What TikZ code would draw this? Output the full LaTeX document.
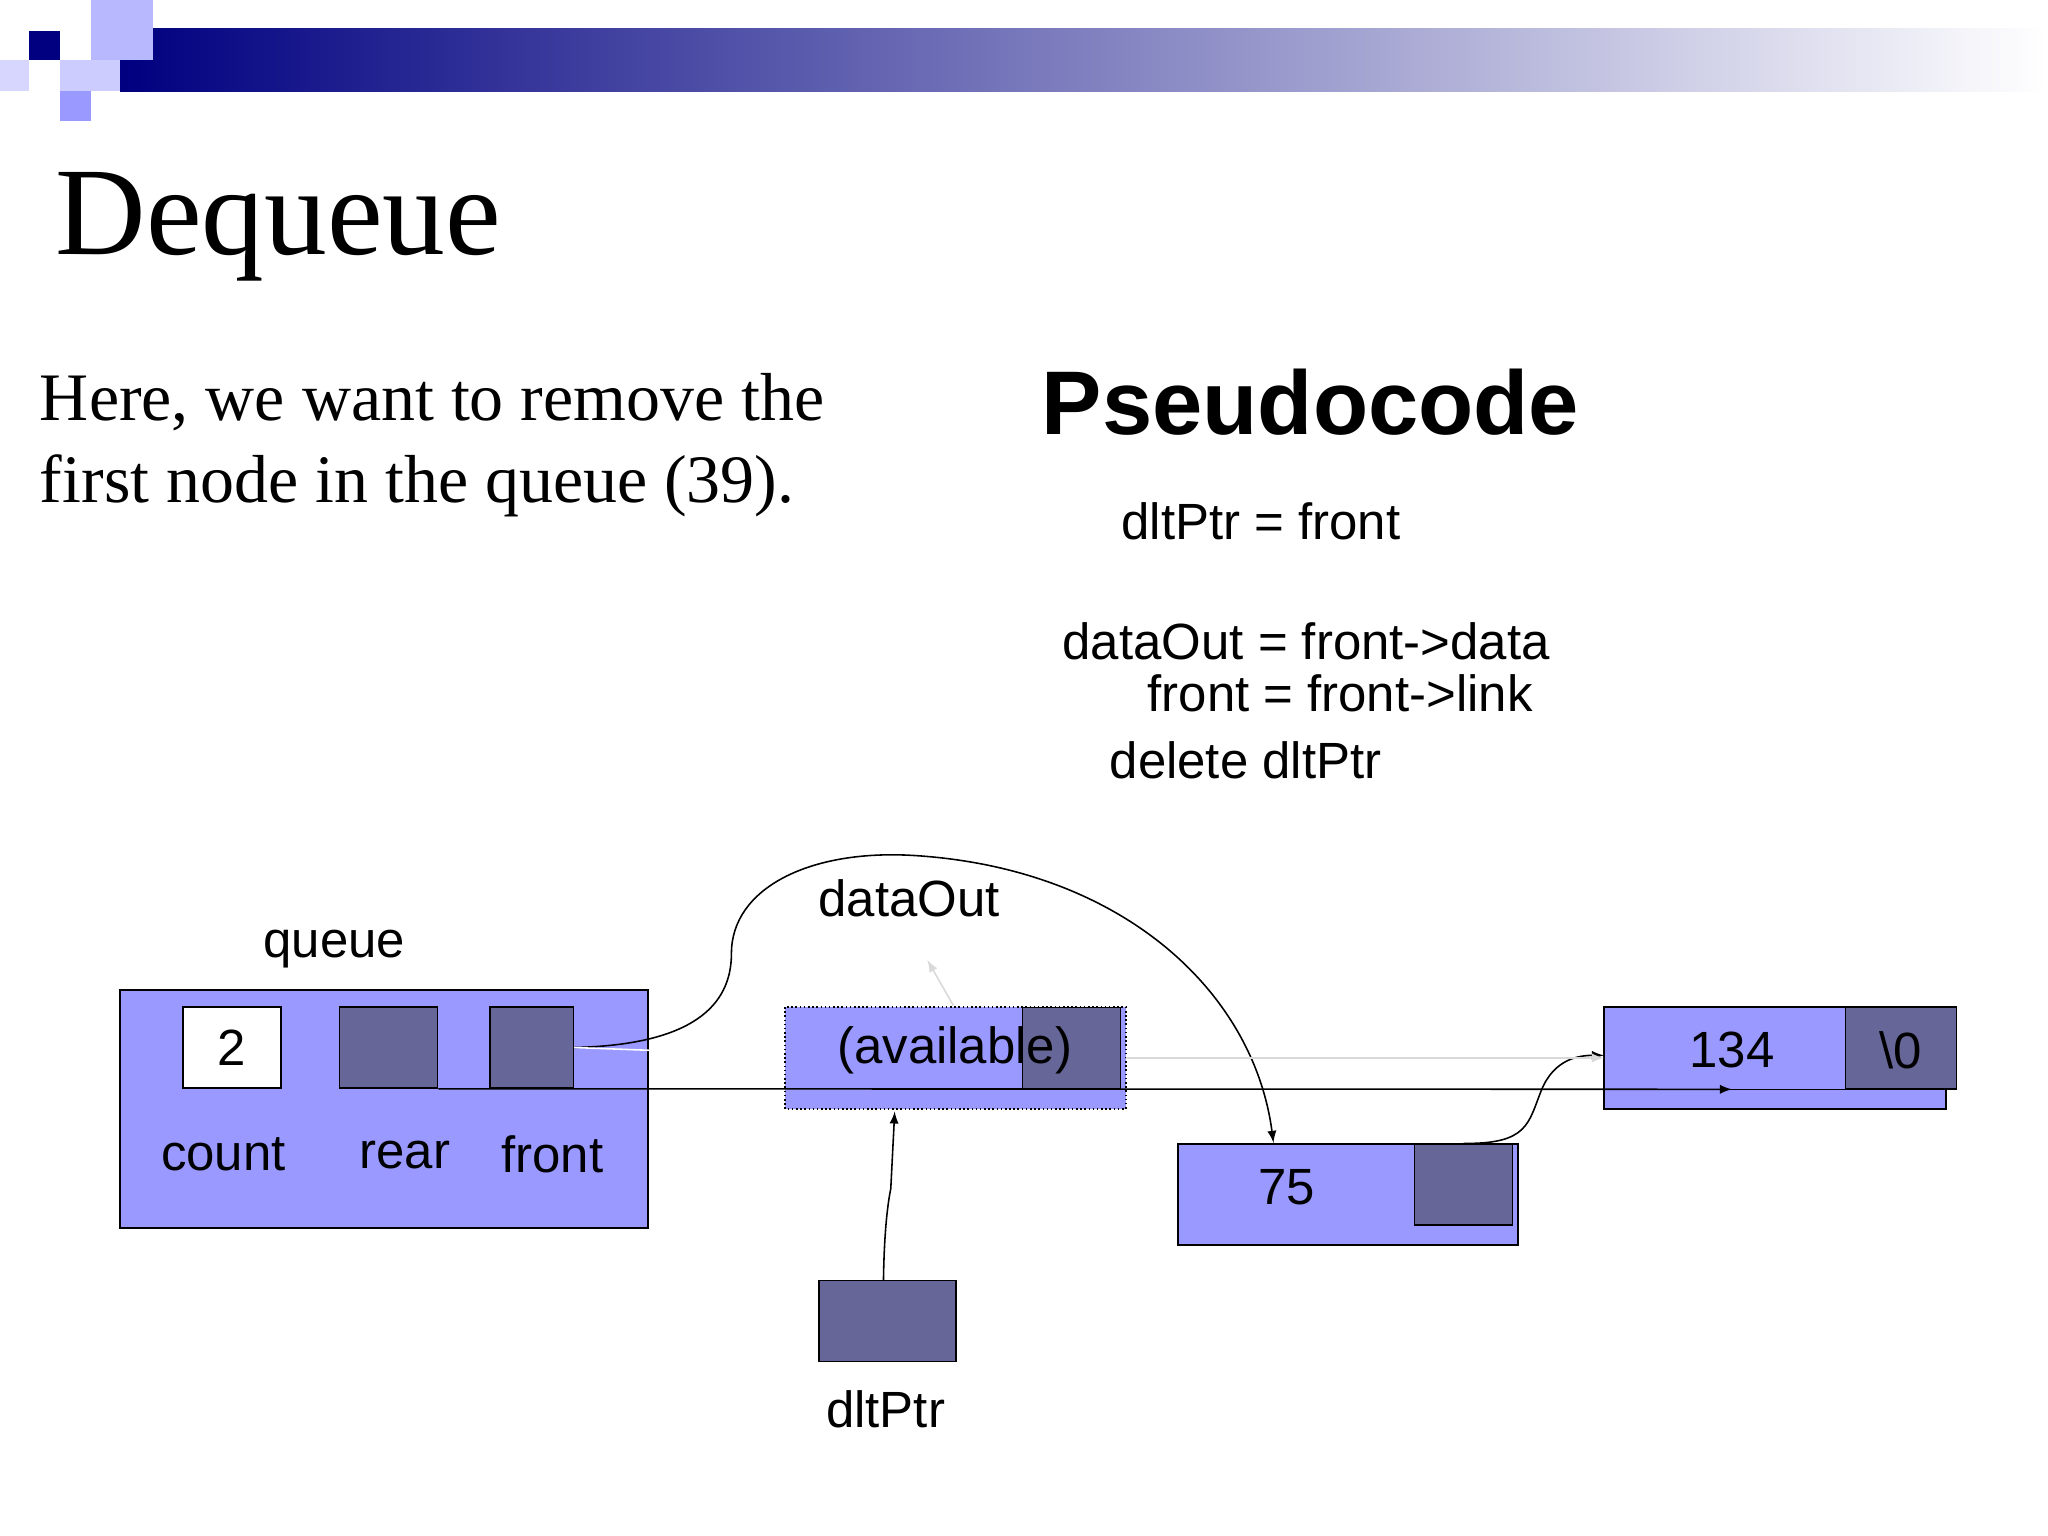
\documentclass[tikz,border=0pt]{standalone}
\usepackage{fontspec}
\setmainfont{Liberation Serif}
\newfontfamily\sans{Liberation Sans}
\usetikzlibrary{positioning}
\definecolor{navy}{RGB}{0,0,128}
\definecolor{peri}{RGB}{153,153,255}
\definecolor{slate}{RGB}{102,102,153}
\tikzset{every picture/.style={line width=0.6pt},
  cell/.style={draw,fill=slate,minimum width=37.5pt,minimum height=31pt,inner sep=0pt},
  lbl/.style={font=\sans\fontsize{19.5}{22}\selectfont,inner sep=0pt},
  code/.style={font=\sans\fontsize{19.5}{22}\selectfont,anchor=base west,inner sep=0pt},
  tip/.style={-latex}}
\begin{document}
\begin{tikzpicture}[x=0.5pt,y=0.5pt,yscale=-1,xscale=1]
\useasboundingbox (0,0) rectangle (1568,1176);
%Top bar
\shade[left color=navy,right color=white] (92,22) rectangle (1568,70);
\fill[navy] (22,24) rectangle (46,46);
\fill[peri!70] (70,0) rectangle (117,46);
\fill[peri!50] (46,46) rectangle (92,70);
\fill[peri] (46,70) rectangle (70,93);
\fill[peri!40] (0,46) rectangle (22,70);
% Title and text
\node[anchor=base west,inner sep=0pt,font=\fontsize{48}{52}\selectfont] (title) at (42,195) {Dequeue};
\node[anchor=base west,inner sep=0pt,font=\fontsize{26}{32}\selectfont] (txt1) at (30,322) {Here, we want to remove the};
\node[anchor=base west,inner sep=0pt,font=\fontsize{26}{32}\selectfont] (txt2) at (30,385) {first node in the queue (39).};
\node[anchor=base west,inner sep=0pt,font=\sans\bfseries\fontsize{34.6}{38}\selectfont] (pseudo) at (797,333) {Pseudocode};
\node[code] (c1) at (858,413) {dltPtr = front};
\node[code] (c2) at (813,505) {dataOut = front->data};
\node[code] (c3) at (878,545) {front = front->link};
\node[code] (c4) at (849,596) {delete dltPtr};
% queue
\draw[fill=peri] (92,758) rectangle (496,940);
\node[lbl] (queue) at (256,727) {queue};
\node[draw,fill=white,minimum width=37.5pt,minimum height=31pt,inner sep=0pt,lbl] (count) at (177.5,802) {2};
\node[cell] (rear) at (297.5,802) {};
\node[cell,minimum width=32pt] (front) at (407,802) {};
\node[lbl] (countl) at (171,884) {count};
\node[lbl] (rearl) at (310,884) {rear};
\node[lbl] (frontl) at (423,884) {front};
% available
\draw[densely dotted,fill=peri] (601,771) rectangle (862,849);
\node[cell] (availc) at (820.5,802.5) {};
\node[lbl] (avail) at (731,804) {(available)};
\node[lbl] (dataout) at (696,688) {dataOut};
% 75
\draw[fill=peri] (902,876) rectangle (1162,953);
\node[cell] (n75c) at (1120.5,907) {};
\node[lbl] (n75) at (985,909) {75};
% 134
\draw[fill=peri] (1228,771) rectangle (1490,849);
\draw[fill=peri] (1228,771) rectangle (1498,834);
\node[cell,minimum width=42.5pt] (n134c) at (1455.5,802.5) {};
\node[lbl] (n134) at (1326,804) {134};
\node[lbl] (nul) at (1455,804) {\textbackslash 0};
% dltPtr
\node[cell,minimum width=52.5pt] (dlt) at (679.5,1011.5) {};
\node[lbl] (dltl) at (678,1079) {dltPtr};
% connectors
\coordinate (rearend) at (1326,834);
\draw[tip] (rear.south east) -- (rearend);
\draw[tip] (front.east) .. controls (530,800) and (560,770) .. (560,730) .. controls (560,680) and (620,650) .. (700,655) .. controls (860,665) and (960,760) .. (975,875);
\draw[tip] (n75c.north) .. controls (1170,876) and (1170,860) .. (1180,835) .. controls (1190,810) and (1210,808) .. (1228,808);
\draw[tip] (dlt.north west) ++(50,0) .. controls (677,940) and (680,920) .. (682,910) -- (685,851);
\draw[white,tip] (front.east) -- (601,808);
\draw[white!85!black,tip] (862,810) -- (1228,810);
\draw[white!85!black,tip] (730,770) -- (710,735);
\end{tikzpicture}
\end{document}
